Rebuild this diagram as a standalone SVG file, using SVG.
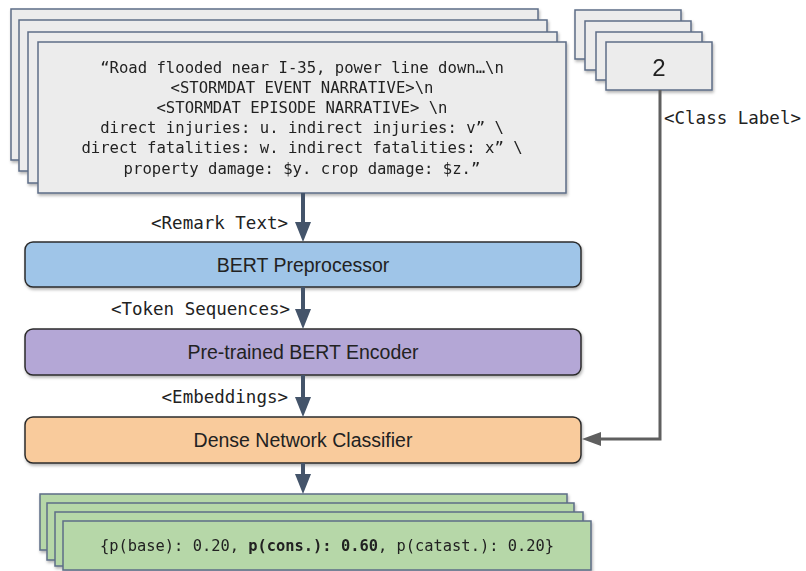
<svg xmlns="http://www.w3.org/2000/svg" width="806" height="571" viewBox="0 0 806 571">
<defs>
<filter id="sh" x="-5%" y="-10%" width="110%" height="130%">
<feDropShadow dx="1" dy="2" stdDeviation="1.5" flood-color="#000" flood-opacity="0.3"/>
</filter>
<marker id="ah" markerWidth="8" markerHeight="8" refX="8" refY="4" orient="auto" markerUnits="userSpaceOnUse" viewBox="0 0 8 8">
<path d="M0,0 L8,4 L0,8 z" fill="#44546a"/>
</marker>
</defs>
<style>
.card{fill:#ececec;stroke:#5d6d87;stroke-width:1.5}
.gcard{fill:#b6d7a8;stroke:#5d6d87;stroke-width:1.5}
.mono{font-family:"DejaVu Sans Mono","Liberation Mono",monospace;fill:#222}
.box{stroke:#2b2b2b;stroke-width:1.5}
.bt{font-family:"Liberation Sans",Arial,sans-serif;font-size:19.5px;fill:#222;text-anchor:middle}
.lbl{font-family:"DejaVu Sans Mono","Liberation Mono",monospace;font-size:17.5px;fill:#222}
.conn{stroke:#44546a;stroke-width:4;fill:none}
.head{fill:#44546a}
</style>

<g id="remark-stack" filter="url(#sh)">
<rect class="card" x="11" y="9" width="527" height="151"/>
<rect class="card" x="19" y="20" width="528" height="151"/>
<rect class="card" x="28" y="32" width="529" height="151"/>
<rect class="card" x="38" y="42" width="528" height="151"/>
<g class="mono" font-size="15.6" text-anchor="middle">
<text x="302" y="73">“Road flooded near I-35, power line down…\n</text>
<text x="302" y="93">&lt;STORMDAT EVENT NARRATIVE&gt;\n</text>
<text x="302" y="113">&lt;STORMDAT EPISODE NARRATIVE&gt; \n</text>
<text x="302" y="133">direct injuries: u. indirect injuries: v” \</text>
<text x="302" y="153">direct fatalities: w. indirect fatalities: x” \</text>
<text x="302" y="174">property damage: $y. crop damage: $z.”</text>
</g>
</g>

<g id="class-stack" filter="url(#sh)">
<rect class="card" x="575" y="10" width="106" height="49"/>
<rect class="card" x="585" y="21" width="106" height="49"/>
<rect class="card" x="596" y="32" width="106" height="48"/>
<rect class="card" x="606" y="42" width="106" height="48"/>
<text x="659" y="76" font-family="'Liberation Sans',Arial,sans-serif" font-size="24" fill="#222" text-anchor="middle">2</text>
</g>

<g id="bert-preprocessor">
<rect class="box" x="25" y="242" width="556" height="45" rx="8" fill="#9fc5e8" filter="url(#sh)"/>
<text class="bt" x="303" y="272">BERT Preprocessor</text>
</g>

<g id="bert-encoder">
<rect class="box" x="25" y="329" width="556" height="46" rx="8" fill="#b4a7d6" filter="url(#sh)"/>
<text class="bt" x="303" y="359">Pre-trained BERT Encoder</text>
</g>

<g id="dense-classifier">
<rect class="box" x="25" y="417" width="556" height="46" rx="8" fill="#f9cb9c" filter="url(#sh)"/>
<text class="bt" x="303" y="447">Dense Network Classifier</text>
</g>

<g id="output-stack" filter="url(#sh)">
<rect class="gcard" x="40" y="494" width="527" height="56"/>
<rect class="gcard" x="47" y="503" width="527" height="57"/>
<rect class="gcard" x="55" y="512" width="528" height="54"/>
<rect class="gcard" x="63" y="521" width="528" height="49"/>
<text class="mono" x="327" y="551" font-size="15.4" text-anchor="middle">{p(base): 0.20, <tspan font-weight="bold">p(cons.): 0.60</tspan>, p(catast.): 0.20}</text>
</g>

<g id="connectors">
<line class="conn" x1="303" y1="193" x2="303" y2="224"/>
<polygon class="head" points="295,222 311,222 303,242"/>
<line class="conn" x1="303" y1="287" x2="303" y2="311"/>
<polygon class="head" points="295,309 311,309 303,329"/>
<line class="conn" x1="303" y1="375" x2="303" y2="399"/>
<polygon class="head" points="295,397 311,397 303,417"/>
<line class="conn" x1="303" y1="463" x2="303" y2="476"/>
<polygon class="head" points="295,474 311,474 303,494"/>
<polyline points="660,90 660,439 598,439" fill="none" stroke="#5f5f5f" stroke-width="3"/>
<polygon points="582,439 601,432 601,446" fill="#5f5f5f"/>
<text class="lbl" x="288" y="229" text-anchor="end">&lt;Remark Text&gt;</text>
<text class="lbl" x="290" y="315" text-anchor="end">&lt;Token Sequences&gt;</text>
<text class="lbl" x="288" y="403" text-anchor="end">&lt;Embeddings&gt;</text>
<text class="lbl" x="664" y="124">&lt;Class Label&gt;</text>
</g>
</svg>
